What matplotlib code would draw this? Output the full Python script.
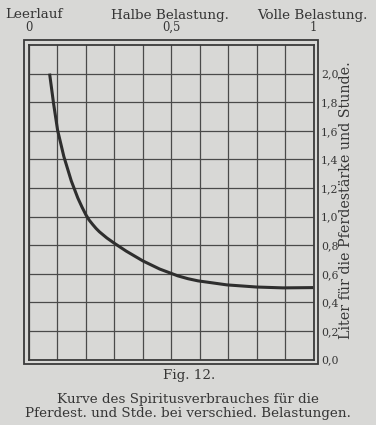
import matplotlib.pyplot as plt
from matplotlib.patches import Rectangle

# Belastung (0 = Leerlauf, 1 = volle Belastung) und Spiritusverbrauch
belastung = [0.074, 0.088, 0.102, 0.124, 0.150, 0.173, 0.188, 0.202, 0.213, 0.225, 0.237, 0.249,
             0.275, 0.302, 0.343, 0.401, 0.460, 0.524, 0.560, 0.595, 0.696, 0.800, 0.893, 1.000]
liter = [2.00, 1.79, 1.605, 1.42, 1.25, 1.13, 1.065, 1.01, 0.975, 0.945, 0.917, 0.893,
         0.85, 0.812, 0.758, 0.690, 0.633, 0.585, 0.565, 0.550, 0.522, 0.507, 0.501, 0.503]

x_ticks = [i / 10 for i in range(11)]
x_labels = ['0', '', '', '', '', '0,5', '', '', '', '', '1']
y_ticks = [i / 5 for i in range(11)]
y_labels = ['0,0', '0,2', '0,4', '0,6', '0,8', '1,0', '1,2', '1,4', '1,6', '1,8', '2,0']

paper = '#d8d8d6'
ink = '#363636'
W, H = 376, 425

plt.rcParams['font.family'] = ['DejaVu Serif']

fig = plt.figure(figsize=(W / 100, H / 100), dpi=100)
fig.patch.set_facecolor(paper)


def fx(px):
    return px / W


def fy(py):
    return 1 - py / H


ax = fig.add_axes([fx(28.5), fy(359.5), fx(313.5) - fx(28.5), fy(45) - fy(359.5)])
ax.set_facecolor(paper)
ax.set_xlim(0, 1)
ax.set_ylim(0, 2.2)

ax.plot(belastung, liter, color='#2e2e2e', lw=2.2, solid_joinstyle='round', solid_capstyle='butt')

ax.set_xticks(x_ticks)
ax.set_xticklabels(x_labels)
ax.set_yticks(y_ticks)
ax.set_yticklabels(y_labels)
ax.xaxis.tick_top()
ax.yaxis.tick_right()
ax.tick_params(axis='x', length=0, pad=8, labelsize=8.3, labelcolor=ink)
ax.tick_params(axis='y', length=0, pad=5.5, labelsize=7.8, labelcolor=ink)
ax.grid(True, color='#4a4a4a', lw=0.9)
for s in ax.spines.values():
    s.set_color('#3a3a3a')
    s.set_linewidth(1.3)

# äusserer Rahmen
fig.patches.append(Rectangle((fx(24), fy(363.5)), fx(317.5) - fx(24), fy(40) - fy(363.5),
                             transform=fig.transFigure, fill=False, ec='#3a3a3a', lw=1.3))

fig.text(fx(34.5), fy(15), 'Leerlauf', ha='center', va='center', fontsize=9.7, color=ink)
fig.text(fx(170), fy(15), 'Halbe Belastung.', ha='center', va='center', fontsize=9.7, color=ink)
fig.text(fx(312), fy(15), 'Volle Belastung.', ha='center', va='center', fontsize=9.7, color=ink)

fig.text(fx(346.5), fy(200), 'Liter für die Pferdestärke und Stunde.', rotation=90,
         ha='center', va='center', fontsize=10.3, color=ink)

fig.text(fx(189), fy(376), 'Fig. 12.', ha='center', va='center', fontsize=9.7, color=ink)
fig.text(fx(188), fy(400), 'Kurve des Spiritusverbrauches für die', ha='center', va='center',
         fontsize=9.7, color=ink)
fig.text(fx(188), fy(413), 'Pferdest. und Stde. bei verschied. Belastungen.', ha='center', va='center',
         fontsize=9.7, color=ink)

fig.savefig('out.png', dpi=100, facecolor=paper)
